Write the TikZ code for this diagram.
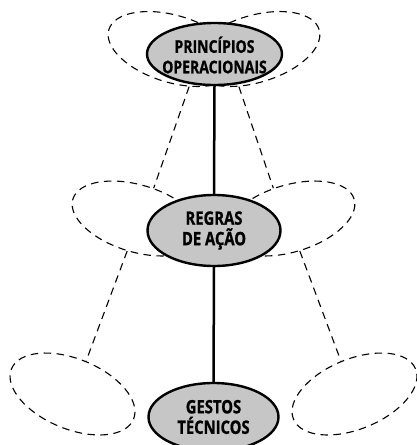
\documentclass[tikz,border=0pt]{standalone}
\usepackage{fontspec}
\setmainfont{Open Sans}[FakeStretch=0.8, BoldFeatures={FakeBold=1}]
\usetikzlibrary{shapes.geometric}
\tikzset{
  dashell/.style={ellipse, draw=black, line width=1.1pt, dash pattern=on 7.5pt off 5.5pt, inner sep=0pt, minimum width=134pt, minimum height=67pt},
  dashlink/.style={draw=black, line width=1.1pt, dash pattern=on 7.5pt off 5.5pt},
  grayell/.style={ellipse, draw=black, line width=2.4pt, fill=gray!45, inner sep=0pt},
  solidlink/.style={draw=black, line width=2.5pt},
  lbl/.style={align=center, font=\fontsize{18.5}{20.5}\selectfont\bfseries, inner sep=0pt}
}
\begin{document}
\begin{tikzpicture}[x=1pt,y=-1pt]
\useasboundingbox (0,0) rectangle (417,445);
% dashed ellipses
\node[dashell, rotate=-16.8] (tl) at (173,49) {};
\node[dashell, rotate=16.8] (tr) at (255,49) {};
\node[dashell, rotate=-16.8] (ml) at (137,218.5) {};
\node[dashell, rotate=16.8] (mr) at (290,218.5) {};
\node[dashell, rotate=-22.4, minimum width=132pt, minimum height=70pt] (bl) at (72.5,394) {};
\node[dashell, rotate=22.4, minimum width=132pt, minimum height=70pt] (br) at (354.5,394) {};
% dashed links
\draw[dashlink] (tl.-50) -- (ml.78);
\draw[dashlink] (tr.230) -- (mr.102);
\draw[dashlink] (ml.south) -- (bl.north);
\draw[dashlink] (mr.south) -- (br.north);
% gray ellipses
\node[grayell, minimum width=135pt, minimum height=62pt] (p) at (214.5,54) {};
\node[grayell, minimum width=133pt, minimum height=71pt] (r) at (214,230.5) {};
\node[grayell, minimum width=130pt, minimum height=68pt] (g) at (213.5,417) {};
\draw[solidlink] (p.south) -- (r.north);
\draw[solidlink] (r.south) -- (g.north);
% labels
\node[lbl, font=\fontsize{17.5}{20.5}\selectfont\bfseries] (pt) at ([yshift=-1pt]p) {PRINCÍPIOS\\OPERACIONAIS};
\node[lbl] (rt) at (r) {REGRAS\\DE AÇÃO};
\node[lbl] (gt) at (g) {GESTOS\\TÉCNICOS};
\end{tikzpicture}
\end{document}
